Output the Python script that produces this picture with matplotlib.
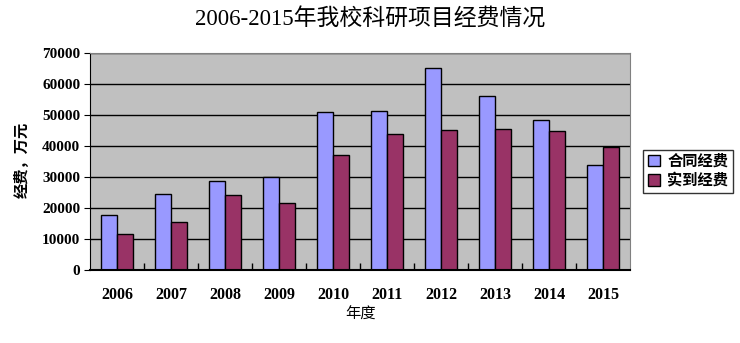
import numpy as np
import matplotlib.pyplot as plt

plt.rcParams['font.family'] = ['Liberation Serif', 'Noto Sans CJK SC']

# data
years = ['2006', '2007', '2008', '2009', '2010', '2011', '2012', '2013', '2014', '2015']
contract = [17700, 24400, 28600, 29900, 50900, 51300, 65100, 56100, 48400, 33800]
actual = [11500, 15400, 24100, 21500, 37000, 43800, 45100, 45400, 44900, 39800]
series_names = ['合同经费', '实到经费']

fig = plt.figure(figsize=(7.4, 3.43), dpi=100)
ax = fig.add_axes([90 / 740, 1 - 270 / 343, 540 / 740, 217 / 343])
ax.set_facecolor('#C0C0C0')
ax.set_axisbelow(True)

x = np.arange(len(years))
w = 0.29
ax.bar(x - w / 2, contract, w, color='#9999FF', edgecolor='black', linewidth=1, label=series_names[0])
ax.bar(x + w / 2, actual, w, color='#993366', edgecolor='black', linewidth=1, label=series_names[1])

ax.set_xlim(-0.5, len(years) - 0.5)
ax.set_ylim(0, 70000)
ax.set_yticks(np.arange(0, 70001, 10000))
ax.yaxis.grid(True, color='black', linewidth=1)
ax.tick_params(axis='y', direction='out', length=4, pad=3)
ax.set_xticks(x)
ax.set_xticklabels(years)
ax.tick_params(axis='x', length=0, pad=12)
ax.set_xticks(np.arange(0.5, len(years) - 0.5, 1), minor=True)
ax.tick_params(axis='x', which='minor', direction='in', length=5, width=1)
for lab in ax.get_yticklabels():
    lab.set_fontsize(11)
    lab.set_fontweight('bold')
for lab in ax.get_xticklabels():
    lab.set_fontsize(11.5)
    lab.set_fontweight('bold')

ax.spines['left'].set_color('black')
ax.spines['bottom'].set_color('black')
ax.spines['bottom'].set_linewidth(1.5)
ax.spines['top'].set_color('#808080')
ax.spines['right'].set_color('#808080')

fig.text(370 / 740, 1 - 19.5 / 343, '2006-2015年我校科研项目经费情况', ha='center', va='center', fontsize=16.5)
fig.text(22 / 740, 1 - 160 / 343, '经费，万元', rotation=90, ha='center', va='center', fontsize=11, fontweight='bold')
fig.text(360 / 740, 1 - 315 / 343, '年度', ha='center', va='center', fontsize=11)

leg = fig.legend(loc='upper left', bbox_to_anchor=(643 / 740, 1 - 150 / 343), frameon=True, fancybox=False,
                 prop={'size': 11, 'weight': 'bold'}, handlelength=0.8, handleheight=0.8, handletextpad=0.5,
                 borderpad=0.3, labelspacing=0.3, borderaxespad=0)
leg.get_frame().set_edgecolor('black')
leg.get_frame().set_linewidth(1)

fig.savefig('out.png', dpi=100)
